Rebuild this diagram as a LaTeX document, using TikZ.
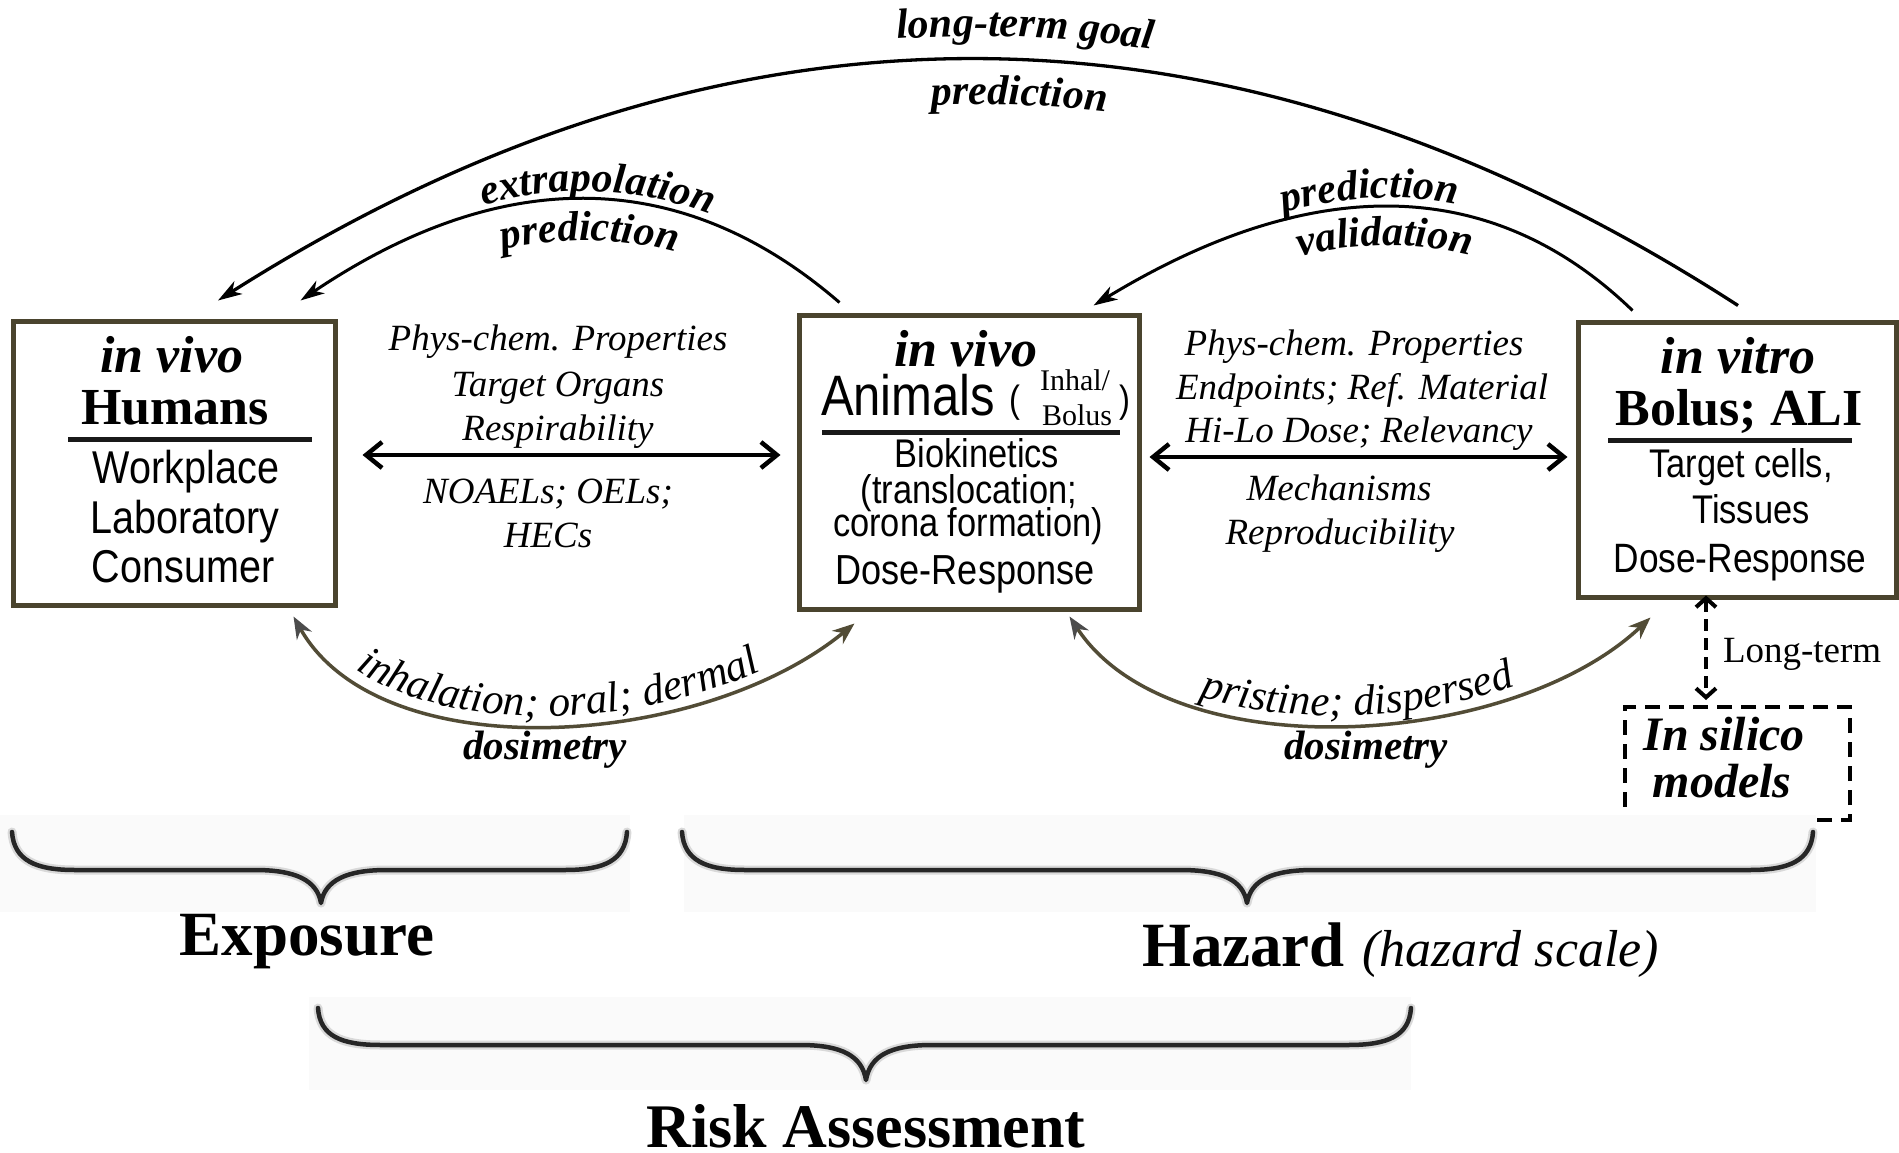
\documentclass[tikz,border=0pt]{standalone}
\usepackage{fontspec}
\setmainfont{Liberation Serif}
\newfontfamily\boxsans[FakeStretch=0.86]{Liberation Sans}
\usetikzlibrary{arrows.meta,decorations.text,calc}

\definecolor{boxedge}{RGB}{74,68,46}
\definecolor{dosearc}{RGB}{82,76,54}

\newcommand\arclabelfont{\fontsize{42}{44}\selectfont\bfseries\itshape}
\newcommand\routefont{\fontsize{43}{45}\selectfont\itshape}

\begin{document}
\begin{tikzpicture}[x=1pt,y=-1pt,
  box/.style={draw=boxedge, line width=5pt, fill=white},
  silbox/.style={draw=black, line width=4pt, dash pattern=on 15pt off 9pt},
  txt/.style={anchor=base, inner sep=0pt, outer sep=0pt},
  hdrit/.style={txt, font=\fontsize{52}{56}\selectfont\bfseries\itshape},
  hdrbf/.style={txt, font=\fontsize{52}{56}\selectfont\bfseries},
  sans/.style={txt, font=\boxsans\fontsize{#1}{#1}\selectfont},
  serifsz/.style={txt, font=\fontsize{#1}{#1}\selectfont},
  midtxt/.style={txt, font=\fontsize{37}{40}\selectfont\itshape},
  dosi/.style={txt, font=\fontsize{41}{44}\selectfont\bfseries\itshape},
  bigbf/.style={txt, font=\fontsize{#1}{#1}\selectfont\bfseries},
  rulebar/.style={line width=5pt, black!90},
  toparc/.style={line width=3pt, -{Stealth[length=24pt,width=15pt,inset=7pt]}},
  route/.style={dosearc, line width=3.5pt,
    {Stealth[length=22pt,width=17pt,inset=7pt,color=black!70]}-{Stealth[length=22pt,width=17pt,inset=7pt]}},
  link/.style={line width=4.5pt,
    {Straight Barb[length=16pt,width=26pt]}-{Straight Barb[length=16pt,width=26pt]}},
  dashlink/.style={line width=4pt, dash pattern=on 12pt off 7pt,
    {Straight Barb[length=9pt,width=20pt]}-{Straight Barb[length=9pt,width=20pt]}},
  bracestroke/.style={line width=4.5pt, black!85, line cap=round, line join=round},
  bracehalo/.style={line width=9pt, black!15, line cap=round, line join=round},
  bracebg/.style={fill=black!2},
]
\useasboundingbox (0,0) rectangle (1899,1153);
\fill[white] (0,0) rectangle (1899,1153);

% ---------- the three study boxes and the in silico box ----------
\node[box, minimum width=322pt, minimum height=284pt] (hum) at (174,463) {};
\node[box, minimum width=340pt, minimum height=294pt] (ani) at (969,462) {};
\node[box, minimum width=318pt, minimum height=275pt] (vit) at (1737,459.5) {};
\node[silbox, minimum width=225pt, minimum height=113pt] (sil) at (1737.5,763.5) {};

% Humans
\node[hdrit] (humA) at (172,372) {in vivo};
\node[hdrbf] (humB) at (175,424) {Humans};
\draw[rulebar] (68,439) -- (312,439);
\node[sans=46] (humC) at (186,483) {Workplace};
\node[sans=46] (humD) at (185,533) {Laboratory};
\node[sans=46] (humE) at (183,582) {Consumer};

% Animals
\node[hdrit] (aniA) at (966,366) {in vivo};
\node[sans=57, anchor=base west] (aniB) at (821,415) {Animals};
\node[sans=38, anchor=base west] (aniP1) at (1009,412) {(};
\node[serifsz=30, anchor=base west] (aniI) at (1040,390) {Inhal/};
\node[serifsz=30, anchor=base west] (aniBo) at (1042,425) {Bolus};
\node[sans=38, anchor=base west] (aniP2) at (1119,412) {)};
\draw[rulebar] (822,432) -- (1120,432);
\node[sans=40] (aniC) at (977,467) {Biokinetics};
\node[sans=40] (aniD) at (969,503) {(translocation;};
\node[sans=40] (aniE) at (968,536) {corona formation)};
\node[sans=42] (aniF) at (965,584) {Dose-Response};

% In vitro
\node[hdrit] (vitA) at (1738,373) {in vitro};
\node[hdrbf] (vitB) at (1739,425) {Bolus; ALI};
\draw[rulebar] (1608,440) -- (1852,440);
\node[sans=40] (vitC) at (1741,477) {Target cells,};
\node[sans=40] (vitD) at (1751,523) {Tissues};
\node[sans=41] (vitE) at (1740,572) {Dose-Response};

% In silico
\node[txt, font=\fontsize{48}{50}\selectfont\bfseries\itshape] (silA) at (1724,750) {In silico};
\node[txt, font=\fontsize{48}{50}\selectfont\bfseries\itshape] (silB) at (1722,797) {models};

% ---------- links between the boxes ----------
\draw[link] ($(hum.east)+(25,-8)$) -- ($(ani.west)+(-16,-7)$);
\draw[link] ($(ani.east)+(8,-5)$) -- ($(vit.west)+(-8,-2.5)$);

\node[midtxt] (lm1) at (558,350) {Phys-chem. Properties};
\node[midtxt] (lm2) at (558,396) {Target Organs};
\node[midtxt] (lm3) at (558,440) {Respirability};
\node[midtxt] (lm4) at (548,503) {NOAELs; OELs;};
\node[midtxt] (lm5) at (548,547) {HECs};

\node[midtxt] (rm1) at (1354,355) {Phys-chem. Properties};
\node[midtxt] (rm2) at (1362,399) {Endpoints; Ref. Material};
\node[midtxt] (rm3) at (1359,442) {Hi-Lo Dose; Relevancy};
\node[midtxt] (rm4) at (1339,500) {Mechanisms};
\node[midtxt] (rm5) at (1340,544) {Reproducibility};

\draw[dashlink] ($(vit.south)+(-31,-4)$) -- ($(sil.north)+(-31.5,-5)$);
\node[serifsz=37, anchor=base west] (lt) at (1723,662) {Long-term};

% ---------- prediction arcs over the top ----------
\coordinate (bigS) at ($(vit.north)+(1,-14)$);
\coordinate (bigE) at ($(hum.north)+(44,-18)$);
\coordinate (lS) at ($(ani.north west)+(43,-10)$);
\coordinate (lE) at ($(hum.north west)+(290,-18)$);
\coordinate (rS) at ($(vit.north west)+(57,-9)$);
\coordinate (rE) at ($(ani.north west)+(297,-7)$);

\draw[toparc, line width=3.3pt] (bigS) .. controls (1233.3,-20.7) and (726.7,-22.3) .. (bigE);
\draw[toparc] (lS) .. controls (681.3,165.7) and (501.7,165) .. (lE);
\draw[toparc] (rS) .. controls (1491.7,174.3) and (1312,172.7) .. (rE);

\path[decorate, decoration={text along path, text align={center, left indent=92pt},
  text={|\arclabelfont|long-term goal}}] (218,279) .. controls (726.7,-46.3) and (1233.3,-44.7) .. (1738,284);
\path[decorate, decoration={text along path, text align={center, left indent=80pt},
  text={|\arclabelfont|prediction}}] (218,347) .. controls (726.7,21.7) and (1233.3,23.3) .. (1738,352);
\path[decorate, decoration={text along path, text align={center, left indent=46pt},
  text={|\arclabelfont|extrapolation}}] (303,294) .. controls (501.7,156) and (681.3,157.3) .. (842,296);
\path[decorate, decoration={text along path, text align={center, left indent=30pt},
  text={|\arclabelfont|prediction}}] (303,343) .. controls (501.7,205) and (681.3,206.3) .. (842,345);
\path[decorate, decoration={text along path, text align=center,
  text={|\arclabelfont|prediction}}] (1096,298) .. controls (1312,162.7) and (1491.7,164.3) .. (1635,303);
\path[decorate, decoration={text along path, text align={center, left indent=30pt},
  text={|\arclabelfont|validation}}] (1096,346) .. controls (1312,210.7) and (1491.7,211.3) .. (1635,351);

% ---------- dosimetry arcs underneath ----------
\coordinate (dLa) at ($(hum.south west)+(283,9)$);
\coordinate (dLb) at ($(ani.south west)+(58,12)$);
\coordinate (dRa) at ($(ani.south west)+(273,5)$);
\coordinate (dRb) at ($(vit.south west)+(75,18)$);

\draw[route] (dLa) .. controls (380,770) and (700,750) .. (dLb);
\draw[route] (dRa) .. controls (1170,770) and (1510,750) .. (dRb);

\path[decorate, decoration={text along path, text align={center, right indent=24pt},
  text={|\routefont|inhalation; oral; dermal}}] (296,606) .. controls (380,762) and (700,742) .. (857,613);
\path[decorate, decoration={text along path, text align=center,
  text={|\routefont|pristine; dispersed}}] (1072,606) .. controls (1170,762) and (1510,742) .. (1653,607);

\node[dosi] (dosL) at (545,759) {dosimetry};
\node[dosi] (dosR) at (1366,759) {dosimetry};

% ---------- braces ----------
\fill[bracebg] (0,815) rectangle (630,912);
\fill[bracebg] (684,815) rectangle (1816,912);
\fill[bracebg] (309,997) rectangle (1411,1090);

\foreach \sty in {bracehalo,bracestroke}{
  \draw[\sty] (12,832) .. controls (14,860) and (35,870) .. (75,870) -- (255,870)
    .. controls (295,870) and (317,880) .. (321,903)
    .. controls (325,880) and (347,870) .. (387,870) -- (565,870)
    .. controls (605,870) and (625,860) .. (627,832);
  \draw[\sty] (682,832) .. controls (684,860) and (705,870) .. (745,870) -- (1180,870)
    .. controls (1222,870) and (1243,880) .. (1247,903)
    .. controls (1251,880) and (1272,870) .. (1314,870) -- (1750,870)
    .. controls (1790,870) and (1811,860) .. (1813,832);
  \draw[\sty] (318,1008) .. controls (320,1036) and (341,1045) .. (381,1045) -- (800,1045)
    .. controls (842,1045) and (862,1056) .. (866,1080)
    .. controls (870,1056) and (890,1045) .. (932,1045) -- (1348,1045)
    .. controls (1388,1045) and (1409,1036) .. (1411,1008);
}

\node[bigbf=63] (expo) at (307,955) {Exposure};
\node[bigbf=63, anchor=base west] (haz) at (1142,966) {Hazard};
\node[txt, anchor=base west, font=\fontsize{52}{54}\selectfont\itshape] (hazs) at (1362,966) {(hazard scale)};
\node[bigbf=62] (risk) at (866,1147) {Risk Assessment};
\end{tikzpicture}
\end{document}
